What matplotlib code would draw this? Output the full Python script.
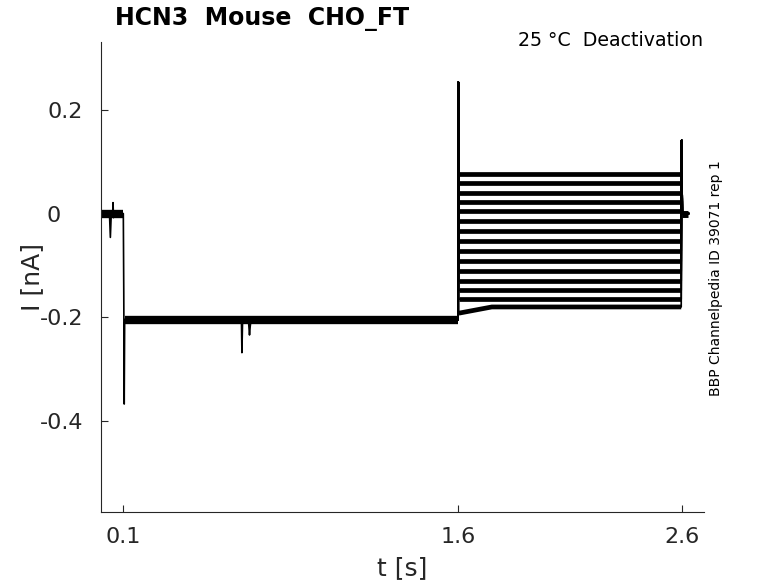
import matplotlib
matplotlib.use("Agg")
import matplotlib.pyplot as plt

# shared part of every sweep: holding, step to prepulse, prepulse (s, nA)
pre_t = [0.000, 0.038, 0.042, 0.046, 0.052, 0.054, 0.056, 0.060, 0.100, 0.102,
         0.104, 0.106, 0.110, 0.625, 0.629, 0.631, 0.634, 0.660, 0.665, 0.668,
         0.672, 1.598]
pre_i = [0.000, 0.000, -0.046, 0.000, -0.004, 0.021, -0.008, 0.000, 0.000, -0.150,
         -0.367, -0.210, -0.203, -0.203, -0.210, -0.268, -0.206, -0.204, -0.234,
         -0.218, -0.204, -0.204]

# flat, noisy stretches of the shared part (start, end, level)
hold_seg = (0.000, 0.100, 0.000)
prepulse_seg = (0.106, 1.598, -0.205)

# test step levels (start / end of the 1 s test pulse)
test_start = [0.076, 0.058, 0.040, 0.022, 0.004, -0.015, -0.034, -0.053,
              -0.072, -0.092, -0.111, -0.130, -0.148, -0.165, -0.192]
test_end = [0.076, 0.058, 0.040, 0.022, 0.004, -0.015, -0.034, -0.053,
            -0.072, -0.092, -0.111, -0.130, -0.148, -0.165, -0.180]

# capacitive transients and tail
on_t, on_peak = 1.600, 0.253
off_t, off_peak = 2.600, 0.141
tail_t = [2.603, 2.630]
tail_i = [0.000, 0.000]

xticks = [0.1, 1.6, 2.6]
yticks = [0.2, 0, -0.2, -0.4]
ytick_labels = ["0.2", "0   ", "-0.2", "-0.4"]

fig = plt.figure(figsize=(7.78, 5.83), dpi=100)
ax = fig.add_axes([0.1298, 0.1218, 0.7751, 0.8062])

# shared part: thin transients, thick noisy plateaus
ax.plot(pre_t, pre_i, color="black", lw=1.2)
for t0, t1, lev in (hold_seg, prepulse_seg):
    ax.plot([t0, t1], [lev, lev], color="black", lw=6, solid_capstyle="butt")

for s, e in zip(test_start, test_end):
    t = [pre_t[-1], on_t, on_t + 0.002, 1.75, off_t - 0.002, off_t] + tail_t
    i = [pre_i[-1], on_peak, s, e, e, off_peak] + tail_i
    ax.plot(t, i, color="black", lw=1.2)
    ax.plot([on_t + 0.002, 1.75, off_t - 0.002], [s, e, e], color="black",
            lw=3.4, solid_capstyle="butt")
ax.plot(tail_t, tail_i, color="black", lw=5, solid_capstyle="butt")

ax.set_xlim(0, 2.70)
ax.set_ylim(-0.575, 0.3305)
ax.set_xticks(xticks)
ax.set_xticklabels([str(v) for v in xticks])
ax.set_yticks(yticks)
ax.set_yticklabels(ytick_labels)

for side in ("top", "right"):
    ax.spines[side].set_visible(False)
for side in ("left", "bottom"):
    ax.spines[side].set_color("#262626")
    ax.spines[side].set_linewidth(0.8)
ax.tick_params(direction="in", length=5, width=0.8, color="#262626",
               labelcolor="#262626", labelsize=16)
ax.tick_params(axis="x", pad=11)
ax.tick_params(axis="y", pad=13)

ax.set_xlabel("t [s]", fontsize=18, color="#262626", labelpad=6)
ax.set_ylabel("I [nA]", fontsize=18, color="#262626", labelpad=-3)

fig.text(115 / 778, 1 - 19 / 583, "HCN3  Mouse  CHO_FT", fontsize=17,
         fontweight="bold", ha="left", va="center")
fig.text(703 / 778, 1 - 41 / 583, "25 °C  Deactivation", fontsize=13.7,
         ha="right", va="center")
fig.text(716 / 778, 1 - 278 / 583, "BBP Channelpedia ID 39071 rep 1",
         fontsize=10, rotation=90, ha="center", va="center")

fig.savefig("out.png", dpi=100)
